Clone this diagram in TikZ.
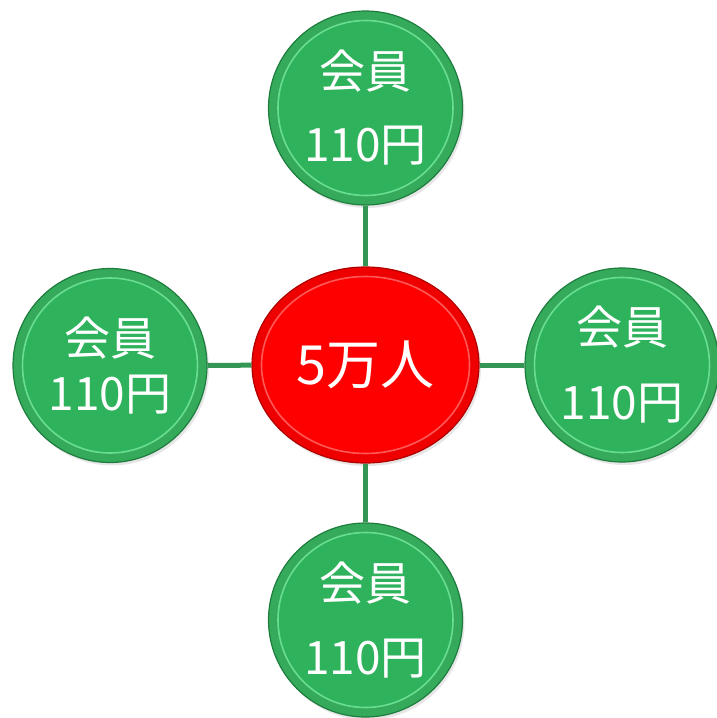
\documentclass[tikz,border=0pt]{standalone}
\usepackage{fontspec}
\usepackage{xcolor}
\usetikzlibrary{shapes.geometric,shadows}
\newfontfamily\jpfont{Noto Sans CJK JP}
\definecolor{btngreen}{RGB}{46,178,92}
\definecolor{bandgreen}{RGB}{52,170,90}
\definecolor{rimgreen}{RGB}{30,125,62}
\definecolor{glowgreen}{RGB}{120,232,160}
\definecolor{btnred}{RGB}{255,0,0}
\definecolor{bandred}{RGB}{238,0,0}
\definecolor{rimred}{RGB}{175,0,0}
\definecolor{glowred}{RGB}{255,110,110}
\definecolor{linkgreen}{RGB}{52,150,85}

\begin{document}
\begin{tikzpicture}[x=1pt,y=-1pt,
    member/.style={circle,minimum size=194pt,inner sep=0pt,fill=btngreen,draw=rimgreen,
      line width=1.2pt,text=white,align=center,
      drop shadow={opacity=0.2,shadow xshift=2pt,shadow yshift=-3pt},
      path picture={
        \draw[bandgreen,line width=9pt] (path picture bounding box.center) circle (92.5);
        \draw[glowgreen,line width=1.6pt,opacity=0.8] (path picture bounding box.center) circle (87.5);},
      font=\jpfont\fontsize{46}{#1}\selectfont},
    link/.style={linkgreen,line width=5pt}]
      \useasboundingbox (0,0) rectangle (717,718);
      % centre
      \node[ellipse,minimum width=227pt,minimum height=196pt,inner sep=0pt,fill=btnred,draw=rimred,
        line width=1.2pt,text=white,font=\jpfont\fontsize{54}{60}\selectfont,
        drop shadow={opacity=0.2,shadow xshift=2pt,shadow yshift=-3pt},
        path picture={
          \draw[bandred,line width=9pt] (path picture bounding box.center) ellipse (109 and 93.5);
          \draw[glowred,line width=1.6pt,opacity=0.8] (path picture bounding box.center) ellipse (104 and 88.5);}]
        (people) at (365.5,365) {5万人};
      % four members
      \node[member=73] (top) at (365.5,108) {会員\\110円};
      \node[member=55] (left) at (110,365.5) {会員\\110円};
      \node[member=75] (right) at (622,365) {会員\\110円};
      \node[member=74] (bottom) at (365.5,620) {会員\\110円};
      \draw[link] (people) -- (top);
      \draw[link] (people) -- (left);
      \draw[link] (people) -- (right);
      \draw[link] (people) -- (bottom);
    \end{tikzpicture}
\end{document}
